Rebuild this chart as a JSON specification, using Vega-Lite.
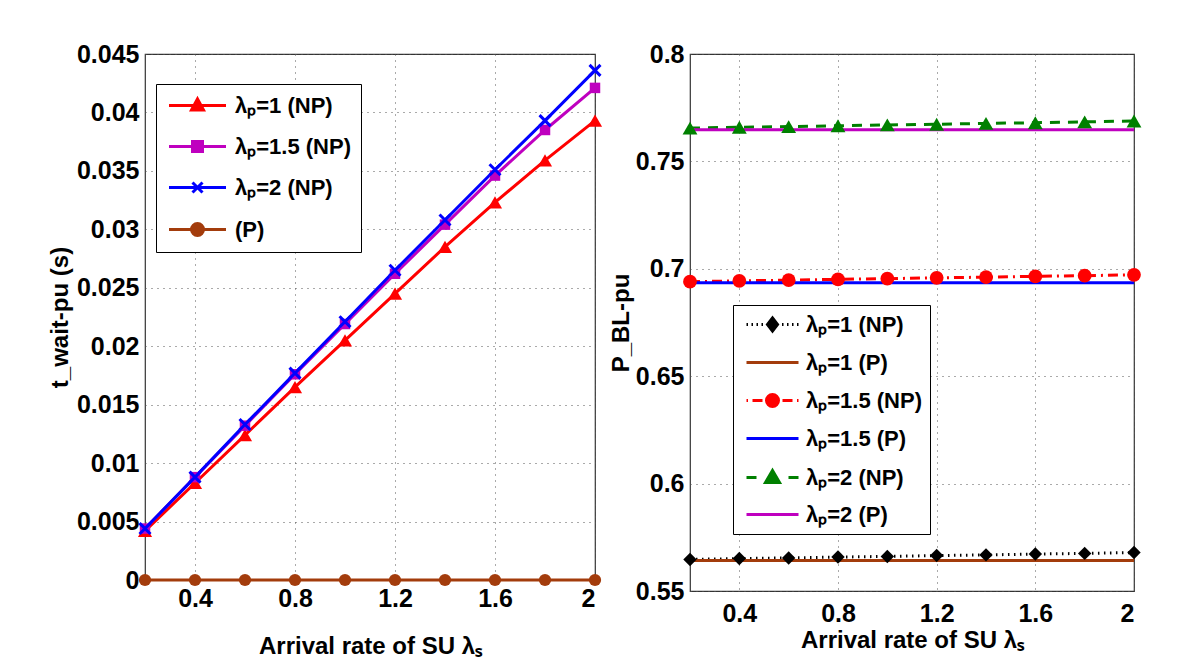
{
  "$schema": "https://vega.github.io/schema/vega-lite/v6.json",
  "background": "white",
  "padding": {"left": 47, "top": 41, "right": 5, "bottom": 5},
  "spacing": 0,
  "resolve": {
    "scale": {"color": "independent", "fill": "independent", "stroke": "independent", "shape": "independent", "strokeDash": "independent"},
    "legend": {"color": "independent", "fill": "independent", "stroke": "independent", "shape": "independent", "strokeDash": "independent"}
  },
  "config": {
    "font": "Liberation Sans",
    "view": {"stroke": "#333333", "strokeWidth": 1.2},
    "axis": {
      "labelFont": "Liberation Sans", "labelFontSize": 25, "labelFontWeight": "bold", "labelColor": "black",
      "titleFont": "Liberation Sans", "titleFontSize": 24, "titleFontWeight": "bold", "titleColor": "black",
      "ticks": false, "domain": false, "grid": true, "gridDash": [1, 5], "gridColor": "#555555", "gridWidth": 1,
      "labelPadding": 6
    },
    "legend": {
      "labelFont": "Liberation Sans", "labelFontSize": 22, "labelFontWeight": "bold", "labelColor": "black"
    }
  },
  "datasets": {
    "wait": [
      {"x": 0.2, "series": "λₚ=1 (NP)", "y": 0.0042}, {"x": 0.4, "series": "λₚ=1 (NP)", "y": 0.0083}, {"x": 0.6, "series": "λₚ=1 (NP)", "y": 0.0124}, {"x": 0.8, "series": "λₚ=1 (NP)", "y": 0.0165}, {"x": 1.0, "series": "λₚ=1 (NP)", "y": 0.0205}, {"x": 1.2, "series": "λₚ=1 (NP)", "y": 0.0245}, {"x": 1.4, "series": "λₚ=1 (NP)", "y": 0.0285}, {"x": 1.6, "series": "λₚ=1 (NP)", "y": 0.0323}, {"x": 1.8, "series": "λₚ=1 (NP)", "y": 0.0359}, {"x": 2.0, "series": "λₚ=1 (NP)", "y": 0.0393},
      {"x": 0.2, "series": "λₚ=1.5 (NP)", "y": 0.0044}, {"x": 0.4, "series": "λₚ=1.5 (NP)", "y": 0.0088}, {"x": 0.6, "series": "λₚ=1.5 (NP)", "y": 0.0132}, {"x": 0.8, "series": "λₚ=1.5 (NP)", "y": 0.0176}, {"x": 1.0, "series": "λₚ=1.5 (NP)", "y": 0.0219}, {"x": 1.2, "series": "λₚ=1.5 (NP)", "y": 0.0262}, {"x": 1.4, "series": "λₚ=1.5 (NP)", "y": 0.0304}, {"x": 1.6, "series": "λₚ=1.5 (NP)", "y": 0.0346}, {"x": 1.8, "series": "λₚ=1.5 (NP)", "y": 0.0385}, {"x": 2.0, "series": "λₚ=1.5 (NP)", "y": 0.0421},
      {"x": 0.2, "series": "λₚ=2 (NP)", "y": 0.0044}, {"x": 0.4, "series": "λₚ=2 (NP)", "y": 0.0088}, {"x": 0.6, "series": "λₚ=2 (NP)", "y": 0.0133}, {"x": 0.8, "series": "λₚ=2 (NP)", "y": 0.0177}, {"x": 1.0, "series": "λₚ=2 (NP)", "y": 0.0221}, {"x": 1.2, "series": "λₚ=2 (NP)", "y": 0.0265}, {"x": 1.4, "series": "λₚ=2 (NP)", "y": 0.0308}, {"x": 1.6, "series": "λₚ=2 (NP)", "y": 0.0351}, {"x": 1.8, "series": "λₚ=2 (NP)", "y": 0.0393}, {"x": 2.0, "series": "λₚ=2 (NP)", "y": 0.0436},
      {"x": 0.2, "series": "(P)", "y": 0}, {"x": 0.4, "series": "(P)", "y": 0}, {"x": 0.6, "series": "(P)", "y": 0}, {"x": 0.8, "series": "(P)", "y": 0}, {"x": 1.0, "series": "(P)", "y": 0}, {"x": 1.2, "series": "(P)", "y": 0}, {"x": 1.4, "series": "(P)", "y": 0}, {"x": 1.6, "series": "(P)", "y": 0}, {"x": 1.8, "series": "(P)", "y": 0}, {"x": 2.0, "series": "(P)", "y": 0}
    ],
    "block": [
      {"x": 0.2, "series": "λₚ=1 (NP)", "y": 0.5647}, {"x": 0.4, "series": "λₚ=1 (NP)", "y": 0.5651}, {"x": 0.6, "series": "λₚ=1 (NP)", "y": 0.5654}, {"x": 0.8, "series": "λₚ=1 (NP)", "y": 0.5658}, {"x": 1.0, "series": "λₚ=1 (NP)", "y": 0.5661}, {"x": 1.2, "series": "λₚ=1 (NP)", "y": 0.5665}, {"x": 1.4, "series": "λₚ=1 (NP)", "y": 0.5668}, {"x": 1.6, "series": "λₚ=1 (NP)", "y": 0.5672}, {"x": 1.8, "series": "λₚ=1 (NP)", "y": 0.5675}, {"x": 2.0, "series": "λₚ=1 (NP)", "y": 0.5679},
      {"x": 0.2, "series": "λₚ=1 (P)", "y": 0.5642}, {"x": 0.4, "series": "λₚ=1 (P)", "y": 0.5642}, {"x": 0.6, "series": "λₚ=1 (P)", "y": 0.5642}, {"x": 0.8, "series": "λₚ=1 (P)", "y": 0.5642}, {"x": 1.0, "series": "λₚ=1 (P)", "y": 0.5642}, {"x": 1.2, "series": "λₚ=1 (P)", "y": 0.5642}, {"x": 1.4, "series": "λₚ=1 (P)", "y": 0.5642}, {"x": 1.6, "series": "λₚ=1 (P)", "y": 0.5642}, {"x": 1.8, "series": "λₚ=1 (P)", "y": 0.5642}, {"x": 2.0, "series": "λₚ=1 (P)", "y": 0.5642},
      {"x": 0.2, "series": "λₚ=1.5 (NP)", "y": 0.6940}, {"x": 0.4, "series": "λₚ=1.5 (NP)", "y": 0.6944}, {"x": 0.6, "series": "λₚ=1.5 (NP)", "y": 0.6947}, {"x": 0.8, "series": "λₚ=1.5 (NP)", "y": 0.6951}, {"x": 1.0, "series": "λₚ=1.5 (NP)", "y": 0.6954}, {"x": 1.2, "series": "λₚ=1.5 (NP)", "y": 0.6958}, {"x": 1.4, "series": "λₚ=1.5 (NP)", "y": 0.6961}, {"x": 1.6, "series": "λₚ=1.5 (NP)", "y": 0.6965}, {"x": 1.8, "series": "λₚ=1.5 (NP)", "y": 0.6968}, {"x": 2.0, "series": "λₚ=1.5 (NP)", "y": 0.6972},
      {"x": 0.2, "series": "λₚ=1.5 (P)", "y": 0.6935}, {"x": 0.4, "series": "λₚ=1.5 (P)", "y": 0.6935}, {"x": 0.6, "series": "λₚ=1.5 (P)", "y": 0.6935}, {"x": 0.8, "series": "λₚ=1.5 (P)", "y": 0.6935}, {"x": 1.0, "series": "λₚ=1.5 (P)", "y": 0.6935}, {"x": 1.2, "series": "λₚ=1.5 (P)", "y": 0.6935}, {"x": 1.4, "series": "λₚ=1.5 (P)", "y": 0.6935}, {"x": 1.6, "series": "λₚ=1.5 (P)", "y": 0.6935}, {"x": 1.8, "series": "λₚ=1.5 (P)", "y": 0.6935}, {"x": 2.0, "series": "λₚ=1.5 (P)", "y": 0.6935},
      {"x": 0.2, "series": "λₚ=2 (NP)", "y": 0.7655}, {"x": 0.4, "series": "λₚ=2 (NP)", "y": 0.7659}, {"x": 0.6, "series": "λₚ=2 (NP)", "y": 0.7662}, {"x": 0.8, "series": "λₚ=2 (NP)", "y": 0.7666}, {"x": 1.0, "series": "λₚ=2 (NP)", "y": 0.7670}, {"x": 1.2, "series": "λₚ=2 (NP)", "y": 0.7673}, {"x": 1.4, "series": "λₚ=2 (NP)", "y": 0.7677}, {"x": 1.6, "series": "λₚ=2 (NP)", "y": 0.7680}, {"x": 1.8, "series": "λₚ=2 (NP)", "y": 0.7684}, {"x": 2.0, "series": "λₚ=2 (NP)", "y": 0.7688},
      {"x": 0.2, "series": "λₚ=2 (P)", "y": 0.7647}, {"x": 0.4, "series": "λₚ=2 (P)", "y": 0.7647}, {"x": 0.6, "series": "λₚ=2 (P)", "y": 0.7647}, {"x": 0.8, "series": "λₚ=2 (P)", "y": 0.7647}, {"x": 1.0, "series": "λₚ=2 (P)", "y": 0.7647}, {"x": 1.2, "series": "λₚ=2 (P)", "y": 0.7647}, {"x": 1.4, "series": "λₚ=2 (P)", "y": 0.7647}, {"x": 1.6, "series": "λₚ=2 (P)", "y": 0.7647}, {"x": 1.8, "series": "λₚ=2 (P)", "y": 0.7647}, {"x": 2.0, "series": "λₚ=2 (P)", "y": 0.7647}
    ]
  },
  "hconcat": [
    {
      "width": 450,
      "height": 526,
      "data": {"name": "wait"},
      "encoding": {
        "x": {"field": "x", "type": "quantitative", "scale": {"domain": [0.2, 2], "nice": false, "zero": false},
              "axis": {"values": [0.4, 0.8, 1.2, 1.6, 2], "format": "~g", "title": "Arrival rate of SU λₛ", "titlePadding": 23}},
        "y": {"field": "y", "type": "quantitative", "scale": {"domain": [0, 0.045], "nice": false},
              "axis": {"values": [0, 0.005, 0.01, 0.015, 0.02, 0.025, 0.03, 0.035, 0.04, 0.045], "format": "~g", "title": "t_wait-pu (s)", "titlePadding": 4}}
      },
      "layer": [
        {
          "mark": {"type": "line", "strokeWidth": 3},
          "encoding": {
            "color": {"field": "series", "type": "nominal", "legend": null,
                      "scale": {"domain": ["λₚ=1 (NP)", "λₚ=1.5 (NP)", "λₚ=2 (NP)", "(P)", "none"], "range": ["#ff0000", "#bf00bf", "#0000ff", "#a33c0c", "#999999"]}}
          }
        },
        {"transform": [{"filter": {"field": "series", "equal": "(P)"}}],
         "mark": {"type": "point", "shape": "circle", "filled": true, "size": 150, "color": "#a33c0c", "opacity": 1}},
        {"transform": [{"filter": {"field": "series", "equal": "λₚ=1 (NP)"}}],
         "mark": {"type": "point", "shape": "triangle-up", "filled": true, "size": 200, "color": "#ff0000", "opacity": 1}},
        {"transform": [{"filter": {"field": "series", "equal": "λₚ=1.5 (NP)"}}],
         "mark": {"type": "point", "shape": "square", "filled": true, "size": 110, "color": "#bf00bf", "opacity": 1}},
        {"transform": [{"filter": {"field": "series", "equal": "λₚ=2 (NP)"}}],
         "mark": {"type": "point", "shape": "M-1,-1L1,1M-1,1L1,-1", "filled": false, "strokeWidth": 3, "size": 120, "color": "#0000ff", "opacity": 1}},
        {
          "transform": [{"filter": "false"}],
          "mark": {"type": "point", "filled": true, "strokeWidth": 3, "opacity": 1},
          "encoding": {
            "fill": {"field": "series", "type": "nominal",
                     "scale": {"domain": ["λₚ=1 (NP)", "λₚ=1.5 (NP)", "λₚ=2 (NP)", "(P)"], "range": ["#ff0000", "#bf00bf", "#0000ff", "#a33c0c"]},
                     "legend": {"orient": "none", "legendX": 11, "legendY": 30, "title": null, "fillColor": "white", "strokeColor": "black", "padding": 10, "symbolSize": 400, "symbolStrokeWidth": 3, "symbolOffset": 20, "labelOffset": 26, "rowPadding": 18}},
            "stroke": {"field": "series", "type": "nominal",
                     "scale": {"domain": ["λₚ=1 (NP)", "λₚ=1.5 (NP)", "λₚ=2 (NP)", "(P)"], "range": ["#ff0000", "#bf00bf", "#0000ff", "#a33c0c"]},
                     "legend": {"orient": "none", "legendX": 11, "legendY": 30, "title": null, "fillColor": "white", "strokeColor": "black", "padding": 10, "symbolSize": 400, "symbolStrokeWidth": 3, "symbolOffset": 20, "labelOffset": 26, "rowPadding": 18}},
            "shape": {"field": "series", "type": "nominal",
                     "scale": {"domain": ["λₚ=1 (NP)", "λₚ=1.5 (NP)", "λₚ=2 (NP)", "(P)"],
                               "range": ["M-2.85,0H2.85M0,-0.65L0.6,0.45L-0.6,0.45Z", "M-2.85,0H2.85M-0.5,-0.5H0.5V0.5H-0.5Z", "M-2.85,0H2.85M-0.5,-0.5L0.5,0.5M-0.5,0.5L0.5,-0.5", "M-2.85,0H2.85M0.6,0A0.6,0.6 0 1,1 -0.6,0A0.6,0.6 0 1,1 0.6,0Z"]},
                     "legend": {"orient": "none", "legendX": 11, "legendY": 30, "title": null, "fillColor": "white", "strokeColor": "black", "padding": 10, "symbolSize": 400, "symbolStrokeWidth": 3, "symbolOffset": 20, "labelOffset": 26, "rowPadding": 18}}
          }
        }
      ]
    },
    {
      "width": 444,
      "height": 537,
      "data": {"name": "block"},
      "encoding": {
        "x": {"field": "x", "type": "quantitative", "scale": {"domain": [0.2, 2], "nice": false, "zero": false},
              "axis": {"values": [0.4, 0.8, 1.2, 1.6, 2], "format": "~g", "title": "Arrival rate of SU   λₛ", "titlePadding": 2, "labelPadding": 10}},
        "y": {"field": "y", "type": "quantitative", "scale": {"domain": [0.55, 0.8], "nice": false, "zero": false},
              "axis": {"values": [0.55, 0.6, 0.65, 0.7, 0.75, 0.8], "format": "~g", "title": "P_BL-pu", "titlePadding": 2}}
      },
      "layer": [
        {
          "mark": {"type": "line", "strokeWidth": 3},
          "encoding": {
            "color": {"field": "series", "type": "nominal", "legend": null,
                      "scale": {"domain": ["λₚ=1 (NP)", "λₚ=1 (P)", "λₚ=1.5 (NP)", "λₚ=1.5 (P)", "λₚ=2 (NP)", "λₚ=2 (P)", "none"], "range": ["#000000", "#a33c0c", "#ff0000", "#0000ff", "#008000", "#bf00bf", "#999999"]}},
            "strokeDash": {"field": "series", "type": "nominal", "legend": null,
                      "scale": {"domain": ["λₚ=1 (NP)", "λₚ=1 (P)", "λₚ=1.5 (NP)", "λₚ=1.5 (P)", "λₚ=2 (NP)", "λₚ=2 (P)", "none"], "range": [[1.5, 4.5], [1, 0], [10, 5, 2, 5], [1, 0], [10, 8], [1, 0], [1, 0]]}}
          }
        },
        {"transform": [{"filter": {"field": "series", "equal": "λₚ=1 (NP)"}}],
         "mark": {"type": "point", "shape": "diamond", "filled": true, "size": 180, "color": "#000000", "opacity": 1}},
        {"transform": [{"filter": {"field": "series", "equal": "λₚ=1.5 (NP)"}}],
         "mark": {"type": "point", "shape": "circle", "filled": true, "size": 190, "color": "#ff0000", "opacity": 1}},
        {"transform": [{"filter": {"field": "series", "equal": "λₚ=2 (NP)"}}],
         "mark": {"type": "point", "shape": "triangle-up", "filled": true, "size": 220, "color": "#008000", "opacity": 1}},
        {
          "transform": [{"filter": "false"}],
          "mark": {"type": "point", "filled": true, "strokeWidth": 3, "opacity": 1},
          "encoding": {
            "fill": {"field": "series", "type": "nominal",
                     "scale": {"domain": ["λₚ=1 (NP)", "λₚ=1 (P)", "λₚ=1.5 (NP)", "λₚ=1.5 (P)", "λₚ=2 (NP)", "λₚ=2 (P)"], "range": ["#000000", "#a33c0c", "#ff0000", "#0000ff", "#008000", "#bf00bf"]},
                     "legend": {"orient": "none", "legendX": 43, "legendY": 251, "title": null, "fillColor": "white", "strokeColor": "black", "padding": 8, "symbolSize": 400, "symbolStrokeWidth": 3, "symbolOffset": 20, "labelOffset": 22, "rowPadding": 14}},
            "stroke": {"field": "series", "type": "nominal",
                     "scale": {"domain": ["λₚ=1 (NP)", "λₚ=1 (P)", "λₚ=1.5 (NP)", "λₚ=1.5 (P)", "λₚ=2 (NP)", "λₚ=2 (P)"], "range": ["#000000", "#a33c0c", "#ff0000", "#0000ff", "#008000", "#bf00bf"]},
                     "legend": {"orient": "none", "legendX": 43, "legendY": 251, "title": null, "fillColor": "white", "strokeColor": "black", "padding": 8, "symbolSize": 400, "symbolStrokeWidth": 3, "symbolOffset": 20, "labelOffset": 22, "rowPadding": 14}},
            "shape": {"field": "series", "type": "nominal",
                     "scale": {"domain": ["λₚ=1 (NP)", "λₚ=1 (P)", "λₚ=1.5 (NP)", "λₚ=1.5 (P)", "λₚ=2 (NP)", "λₚ=2 (P)"],
                               "range": ["M-2.6,0H-2.45M-2.1,0H-1.95M-1.6,0H-1.45M-1.1,0H-0.95M0.95,0H1.1M1.45,0H1.6M1.95,0H2.1M2.45,0H2.6M0,-0.65L0.5,0L0,0.65L-0.5,0Z", "M-2.6,0H2.6", "M-2.6,0H-2.45M-2.0,0H-1.0M1.0,0H2.0M2.45,0H2.6M0.6,0A0.6,0.6 0 1,1 -0.6,0A0.6,0.6 0 1,1 0.6,0Z", "M-2.6,0H2.6", "M-2.6,0H-1.6M1.6,0H2.6M0,-0.7L0.7,0.5L-0.7,0.5Z", "M-2.6,0H2.6"]},
                     "legend": {"orient": "none", "legendX": 43, "legendY": 251, "title": null, "fillColor": "white", "strokeColor": "black", "padding": 8, "symbolSize": 400, "symbolStrokeWidth": 3, "symbolOffset": 20, "labelOffset": 22, "rowPadding": 14}}
          }
        }
      ]
    }
  ]
}
